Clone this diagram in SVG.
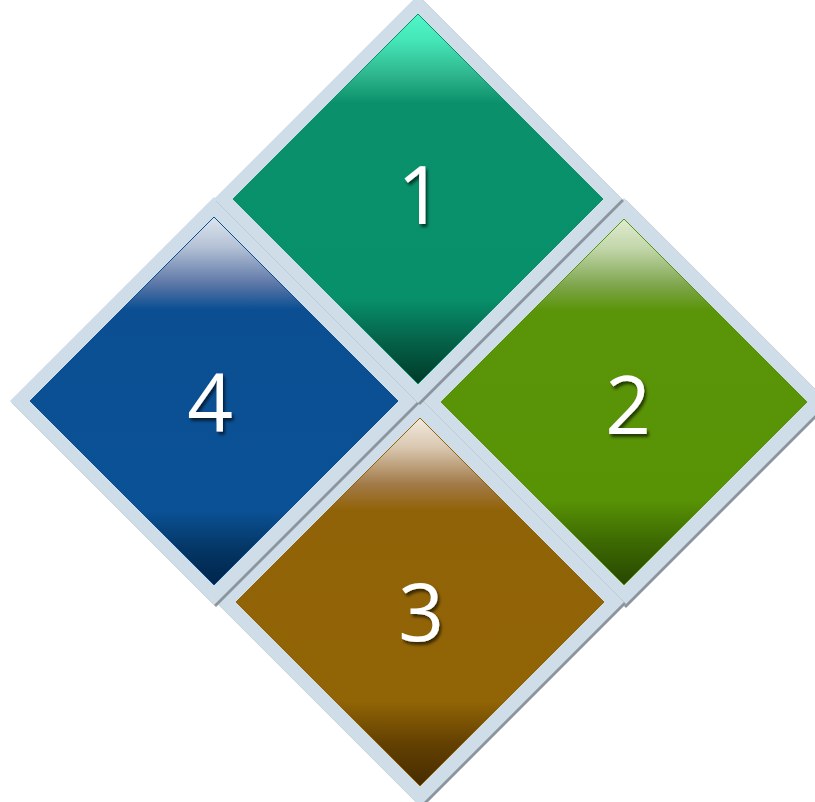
<svg xmlns="http://www.w3.org/2000/svg" width="815" height="802" viewBox="0 0 815 802">
<defs>
<linearGradient id="g1" x1="0" y1="0" x2="0" y2="1">
<stop offset="0" stop-color="#4ff7c8"/><stop offset="0.07" stop-color="#45e6b8"/><stop offset="0.17" stop-color="#2db38b"/><stop offset="0.24" stop-color="#0a916b"/><stop offset="0.77" stop-color="#07906a"/><stop offset="0.88" stop-color="#05634a"/><stop offset="1" stop-color="#003a28"/>
</linearGradient>
<linearGradient id="g2" x1="0" y1="0" x2="0" y2="1">
<stop offset="0" stop-color="#e0ebd0"/><stop offset="0.08" stop-color="#c2d6aa"/><stop offset="0.18" stop-color="#7fa64e"/><stop offset="0.25" stop-color="#5a9408"/><stop offset="0.77" stop-color="#589205"/><stop offset="0.88" stop-color="#3d6a02"/><stop offset="1" stop-color="#284600"/>
</linearGradient>
<linearGradient id="g3" x1="0" y1="0" x2="0" y2="1">
<stop offset="0" stop-color="#f2eadf"/><stop offset="0.08" stop-color="#d9c7b0"/><stop offset="0.18" stop-color="#a27a48"/><stop offset="0.25" stop-color="#916308"/><stop offset="0.77" stop-color="#916405"/><stop offset="0.88" stop-color="#654202"/><stop offset="1" stop-color="#462c00"/>
</linearGradient>
<linearGradient id="g4" x1="0" y1="0" x2="0" y2="1">
<stop offset="0" stop-color="#dde5ee"/><stop offset="0.08" stop-color="#b5c2d6"/><stop offset="0.18" stop-color="#5e78a8"/><stop offset="0.25" stop-color="#0b4f92"/><stop offset="0.8" stop-color="#0a5195"/><stop offset="0.9" stop-color="#043766"/><stop offset="1" stop-color="#00244a"/>
</linearGradient>
<filter id="ts" x="-30%" y="-30%" width="160%" height="160%">
<feDropShadow dx="2" dy="3" stdDeviation="1.5" flood-color="#000" flood-opacity="0.6"/>
</filter>
</defs>
<style>
.sh{fill:#8c959e}
.bd{fill:#cedde8}
.lbl{font-family:"Open Sans","Liberation Sans",sans-serif;font-size:80px;fill:#ffffff;text-anchor:middle;filter:url(#ts)}
</style>
<g id="node2">
<polygon class="sh" points="626,200 830,404 626,608 422,404"/>
<polygon class="bd" points="624,198 828,402 624,606 420,402"/>
<polygon points="624,219 807,402 624,585 441,402" fill="url(#g2)" stroke="#5a9408" stroke-width="1"/>
<text class="lbl" x="628" y="434">2</text>
</g>
<g id="node3">
<polygon class="sh" points="422,400 626,604 422,808 218,604"/>
<polygon class="bd" points="420,398 624,602 420,806 216,602"/>
<polygon points="420,418 604,602 420,786 236,602" fill="url(#g3)" stroke="#916308" stroke-width="1"/>
<text class="lbl" x="421" y="641">3</text>
</g>
<g id="node4">
<polygon class="sh" points="216,199 420,403 216,607 12,403"/>
<polygon class="bd" points="214,197 418,401 214,605 10,401"/>
<polygon points="214,217 398,401 214,585 30,401" fill="url(#g4)" stroke="#0b4f92" stroke-width="1"/>
<text class="lbl" x="210" y="431">4</text>
</g>
<g id="node1">
<polygon class="sh" points="420,-3 624,201 420,405 216,201"/>
<polygon class="bd" points="418,-5 622,199 418,403 214,199"/>
<polygon points="418,14 603,199 418,384 233,199" fill="url(#g1)" stroke="#0a916b" stroke-width="1"/>
<text class="lbl" x="420" y="224">1</text>
</g>
<g id="connectors"/>
</svg>
